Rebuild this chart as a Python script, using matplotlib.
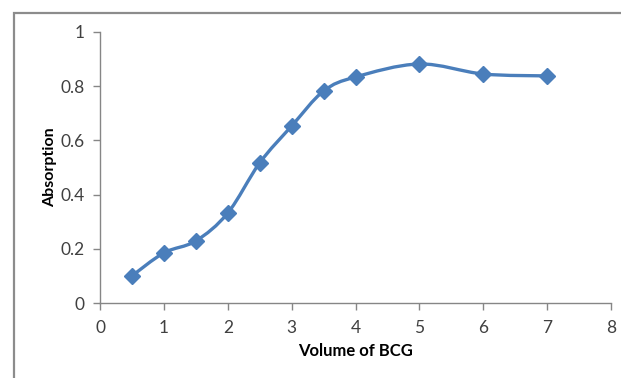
import matplotlib
matplotlib.use("Agg")
import matplotlib.pyplot as plt
from matplotlib.path import Path
from matplotlib.patches import PathPatch, Rectangle
import numpy as np

volume = [0.5, 1, 1.5, 2, 2.5, 3, 3.5, 4, 5, 6, 7]
absorption = [0.10, 0.185, 0.229, 0.332, 0.517, 0.653, 0.782, 0.834, 0.882, 0.845, 0.838]

blue = '#4a7ebb'
gray = '#868686'

plt.rcParams['font.family'] = ['Lato', 'DejaVu Sans']

fig = plt.figure(figsize=(6.21, 3.78), dpi=100)
# outer chart frame (cut off at right/bottom as in the source)
fig.patches.append(Rectangle((14 / 621, -0.1), 1.2, 1 - 13 / 378 + 0.1,
                             transform=fig.transFigure, fill=False,
                             edgecolor='#8c8c8c', linewidth=1.6))

ax = fig.add_axes([100 / 621, 1 - 303 / 378, 511 / 621, 271 / 378])


def smooth_path(x, y):
    # excel-like smoothed line: bezier with catmull-rom style control points
    p = np.column_stack([x, y])
    n = len(p)
    verts = [p[0]]
    codes = [Path.MOVETO]
    for i in range(n - 1):
        p0 = p[i - 1] if i > 0 else p[i]
        p3 = p[i + 2] if i + 2 < n else p[i + 1]
        c1 = p[i] + (p[i + 1] - p0) / 6
        c2 = p[i + 1] - (p3 - p[i]) / 6
        verts += [c1, c2, p[i + 1]]
        codes += [Path.CURVE4] * 3
    return Path(verts, codes)


ax.add_patch(PathPatch(smooth_path(volume, absorption), fill=False,
                       edgecolor=blue, linewidth=2.4, capstyle='round'))
ax.plot(volume, absorption, linestyle='none', marker='D', markersize=8,
        color=blue)

ax.set_xlim(0, 8)
ax.set_ylim(0, 1)
ax.set_xticks(range(0, 9))
ax.set_yticks([0, 0.2, 0.4, 0.6, 0.8, 1])
ax.set_yticklabels(['0', '0.2', '0.4', '0.6', '0.8', '1'])

for s in ['top', 'right']:
    ax.spines[s].set_visible(False)
for s in ['left', 'bottom']:
    ax.spines[s].set_color(gray)
    ax.spines[s].set_linewidth(1.0)
ax.tick_params(colors=gray, labelcolor='#404040', labelsize=12.5, length=5,
               width=1.0, direction='out')
ax.tick_params(axis='x', pad=7)
ax.tick_params(axis='y', pad=6)

ax.set_xlabel('Volume of BCG', fontsize=12, fontweight='bold')
ax.set_ylabel('Absorption', fontsize=11.5, fontweight='bold')
ax.xaxis.set_label_coords(0.5, -48 / 271)
ax.yaxis.set_label_coords(-50 / 511, 0.5)
ax.xaxis.label.set_va('center')
ax.yaxis.label.set_va('center')

fig.savefig('out.png', dpi=100)
